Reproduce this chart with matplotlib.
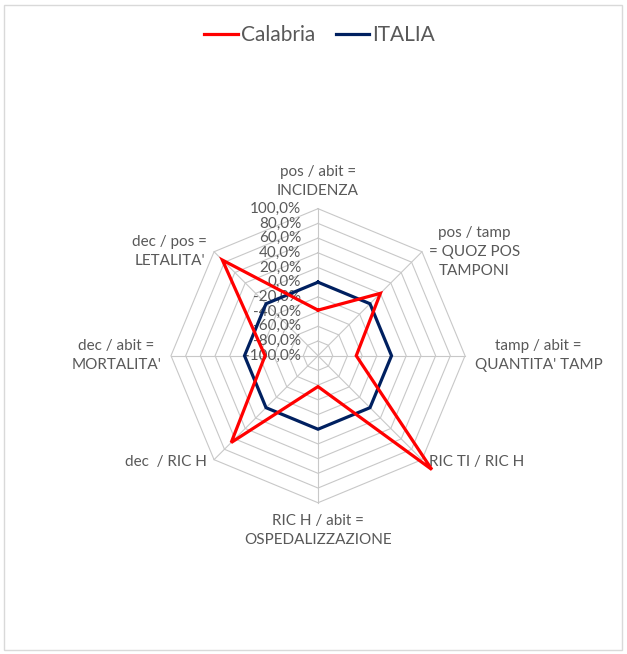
import numpy as np
import matplotlib
matplotlib.use("Agg")
import matplotlib.pyplot as plt
from matplotlib.patches import Rectangle

# indicators (clockwise from top)
categories = [
    "pos / abit =\nINCIDENZA",
    "pos / tamp\n= QUOZ POS\nTAMPONI",
    "tamp / abit =\nQUANTITA' TAMP",
    "RIC TI / RIC H",
    "RIC H / abit =\nOSPEDALIZZAZIONE",
    "dec  / RIC H",
    "dec / abit =\nMORTALITA'",
    "dec / pos =\nLETALITA'",
]
# percent deviation from the national value
calabria = [-38, 20, -48, 119, -58, 67, -28, 84]
italia = [0, 0, 0, 0, 0, 0, 0, 0]
levels = [-100, -80, -60, -40, -20, 0, 20, 40, 60, 80, 100]
level_labels = ["-100,0%", "-80,0%", "-60,0%", "-40,0%", "-20,0%",
                "0,0%", "20,0%", "40,0%", "60,0%", "80,0%", "100,0%"]

plt.rcParams['font.family'] = ['Lato', 'DejaVu Sans']
txt_col = "#595959"
grid_col = "#C8C8C8"

fig = plt.figure(figsize=(6.27, 6.54), dpi=100)
fig.patches.append(Rectangle((0.006, 0.006), 0.986, 0.986, transform=fig.transFigure,
                             fill=False, edgecolor="#D9D9D9", linewidth=1.0))

ax = fig.add_axes([0.2434, 0.2032, 0.5276, 0.5058], projection='polar')
ax.set_theta_zero_location('N')
ax.set_theta_direction(-1)
ax.set_ylim(-100, 125)
ax.grid(False)
ax.set_xticks([])
ax.set_yticks([])
ax.spines['polar'].set_visible(False)
ax.patch.set_alpha(0)

n = len(categories)
theta = np.linspace(0, 2 * np.pi, n, endpoint=False)
theta_c = np.append(theta, theta[0])

# octagonal grid
for lv in levels[1:]:
    ax.plot(theta_c, [lv] * (n + 1), color=grid_col, linewidth=0.8, zorder=1)
for t in theta:
    ax.plot([t, t], [levels[0], levels[-1]], color=grid_col, linewidth=0.8, zorder=1)

# radial labels left of the top spoke
for lv, lab in zip(levels, level_labels):
    ax.annotate(lab, xy=(0, lv), xytext=(-12, 0), textcoords='offset points',
                ha='right', va='center', fontsize=11, color=txt_col, zorder=2)

ax.plot(theta_c, italia + italia[:1], color="#002060", linewidth=2.3, zorder=3,
        solid_joinstyle='miter')
ax.plot(theta_c, calabria + calabria[:1], color="#FF0000", linewidth=2.3, zorder=4,
        solid_joinstyle='miter')

# category labels around the outside
for t, lab in zip(theta, categories):
    s, c = np.sin(t), np.cos(t)
    diag = abs(s) > 0.1 and abs(c) > 0.1
    ha = 'center' if abs(s) < 0.1 else ('left' if s > 0 else 'right')
    if diag:
        va = 'center'
        off = (5 * np.sign(s), -2 if c < 0 else 0)
    else:
        va = 'center' if abs(c) < 0.1 else ('bottom' if c > 0 else 'top')
        off = (7 * s, 8 * c)
    ax.annotate(lab, xy=(t, 100), xytext=off, textcoords='offset points',
                ha=ha, va=va, multialignment='center', fontsize=11,
                color=txt_col, linespacing=1.45)

handles = [plt.Line2D([], [], color="#FF0000", linewidth=2.3),
           plt.Line2D([], [], color="#002060", linewidth=2.3)]
fig.legend(handles, ["Calabria", "ITALIA"], loc='center', bbox_to_anchor=(0.51, 0.946),
           ncol=2, frameon=False, fontsize=15, handlelength=1.6, handletextpad=0.15,
           columnspacing=1.0, labelcolor=txt_col)

fig.savefig("out.png", dpi=100)
